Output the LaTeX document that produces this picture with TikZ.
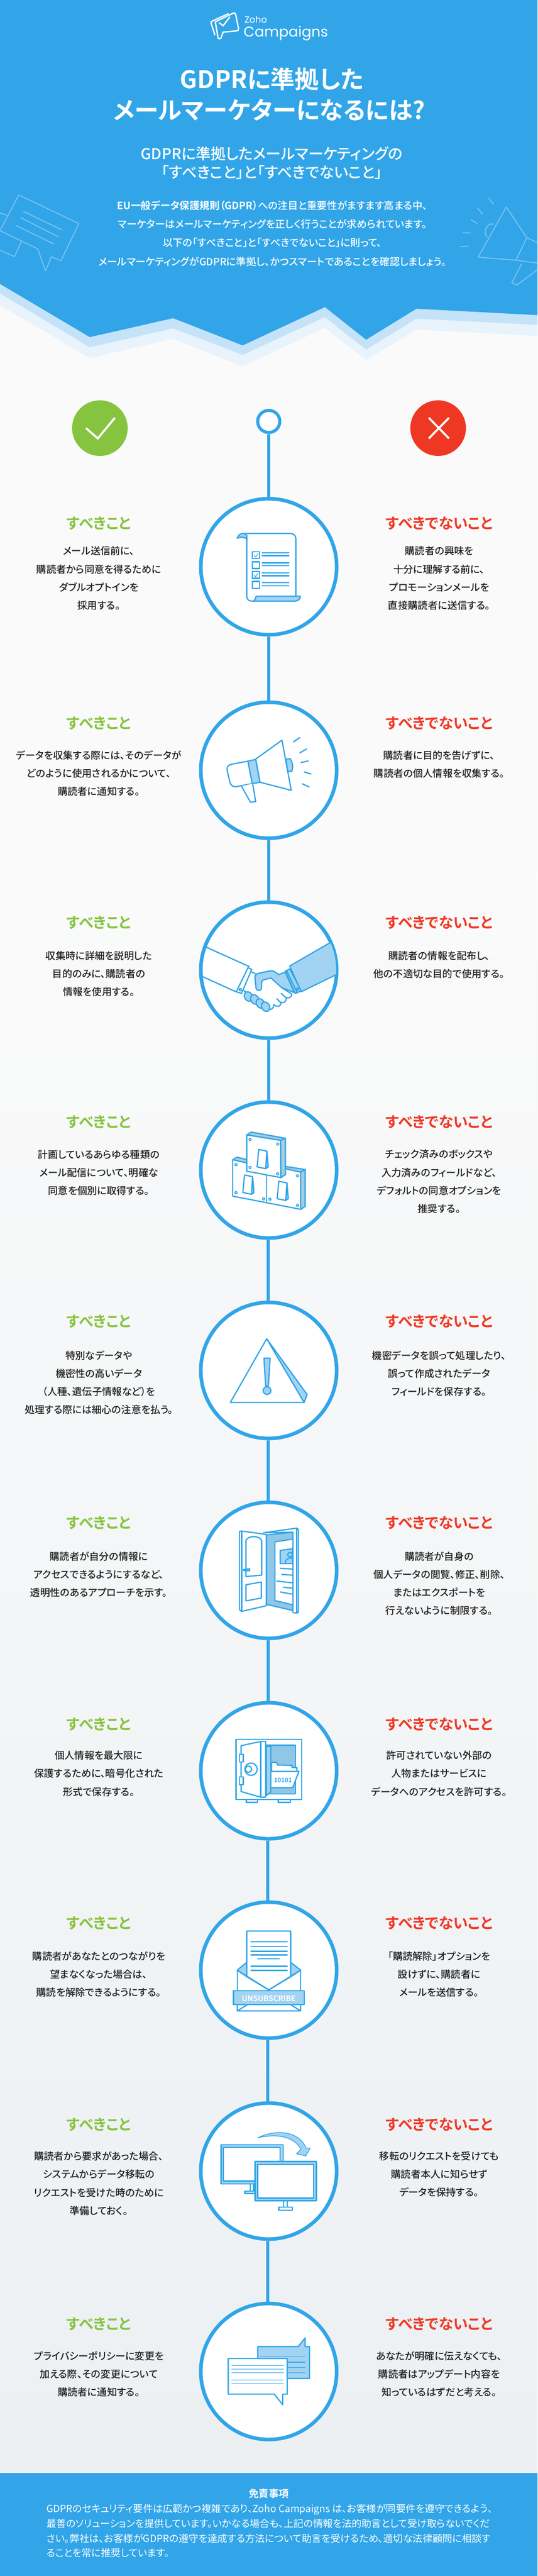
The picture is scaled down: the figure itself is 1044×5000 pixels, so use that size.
\documentclass[tikz,border=0pt]{standalone}
\usepackage{fontspec}
\setmainfont{Noto Sans CJK JP}[RawFeature=+palt]
\newfontfamily\jpm{Noto Sans CJK JP Medium}[RawFeature=+palt]
\newfontfamily\jpb{Noto Sans CJK JP Bold}[RawFeature=+palt]
\newfontfamily\jpr{Noto Sans CJK JP}[RawFeature=+palt]
\newfontfamily\logofont{Poppins}
\definecolor{zb}{HTML}{31A5E8}
\definecolor{zl}{HTML}{A3D3F2}
\definecolor{zm}{HTML}{8FC7E6}
\definecolor{zg}{HTML}{A9CBE0}
\definecolor{zdeco}{HTML}{7DC4F0}
\definecolor{band1}{HTML}{C5E3F8}
\definecolor{band2}{HTML}{E8F3FB}
\definecolor{okc}{HTML}{86C440}
\definecolor{ngc}{HTML}{EF3824}
\definecolor{ink}{HTML}{222222}
\definecolor{bgtop}{HTML}{FAFAFA}
\definecolor{bgbot}{HTML}{ECF0F3}
\tikzset{
  bigcirc/.style={circle,draw=zb,fill=white,line width=7pt,minimum size=264pt,inner sep=0pt},
  spine/.style={draw=zb,line width=6pt},
  ic/.style={draw=zb,line width=2.4pt,line join=round,line cap=round},
  icf/.style={ic,fill=zl},
  icw/.style={ic,fill=white},
  deco/.style={draw=zdeco,line width=1.8pt,line join=round},
  oktitle/.style={text=okc,font=\jpb\fontsize{28.8}{35}\selectfont,inner sep=0pt},
  ngtitle/.style={text=ngc,font=\jpb\fontsize{28.8}{35}\selectfont,inner sep=0pt},
  body/.style={text=ink,font=\jpm\fontsize{19.3}{35.3}\selectfont,align=center,inner sep=0pt},
  whitetext/.style={text=white,align=center,inner sep=0pt},
  zoomA/.style 2 args={shift={(#1,#2)},x=0.33333pt,y=-0.33333pt}
}
\begin{document}
\begin{tikzpicture}[x=1pt,y=-1pt]
\useasboundingbox (0,0) rectangle (1044,5000);
% background
\fill[bgtop] (0,500) rectangle (1044,1700);
\shade[top color=bgtop,bottom color=bgbot] (0,1700) rectangle (1044,4800);
% zigzag header
\begin{scope}[shift={(0,0)},x=0.6658pt,y=-0.4592pt]
\fill[band2] (0,1290)--(262,1513)--(505,1432)--(708,1548)--(948,1385)--(1068,1522)--(1215,1393)--(1568,1420)--(1568,1100)--(0,1100)--cycle;
\fill[band1] (0,1240)--(262,1468)--(505,1388)--(708,1500)--(948,1340)--(1068,1478)--(1215,1347)--(1568,1373)--(1568,1100)--(0,1100)--cycle;
\fill[zb] (0,1200)--(262,1425)--(505,1345)--(708,1460)--(948,1298)--(1068,1436)--(1215,1305)--(1568,1332)--(1568,0)--(0,0)--cycle;
% decorations
\draw[deco] (0,975)--(55,824)--(230,945)--(178,1102)--(150,1085)--(133,1145)--(110,1052)--cycle;
\draw[deco] (0,900)--(20,910) (0,1057)--(42,1085)--(62,1022);
\draw[deco] (68,893)--(182,973) (60,920)--(172,1002) (47,953)--(158,1032);
\draw[deco] (1537,1005)--(1477,875)--(1395,1087)--(1505,1100)--(1537,1005)--(1568,1025);
\draw[deco] (1505,1100)--(1568,1112) (1522,1115)--(1493,1195)--(1508,1205)--(1568,1140);
\draw[deco] (1440,947)--(1428,947)..controls (1415,965) and (1410,985) .. (1422,1003);
\draw[deco] (1425,835)--(1440,865) (1392,878)--(1408,905) (1373,928)--(1393,945) (1350,983)--(1373,985) (1343,1043)--(1367,1040);
\end{scope}
% logo
\begin{scope}[zoomA={400}{15},line width=2.6pt,line join=round,line cap=round]
\draw[white] (55,82)--(158,32)..controls (168,28) and (172,35) .. (174,42)--(190,122)..controls (191,130) and (186,135) .. (178,135)--(100,142)--(88,176)..controls (84,182) and (72,182) .. (70,174)--(55,82);
\draw[white] (52,158)--(30,90)..controls (28,84) and (30,80) .. (36,78)--(130,35);
\draw[white] (78,88)--(100,105)--(138,55);
\end{scope}
\node[text=white,font=\logofont\fontsize{17.6}{20}\selectfont,anchor=west,inner sep=0pt] (zoho) at (475,38) {Zoho};
\node[text=white,font=\logofont\fontsize{27.7}{32}\selectfont,anchor=west,inner sep=0pt] (camp) at (473,64.5) {Campaigns};
% titles
\node[whitetext,font=\jpb\fontsize{47}{59}\selectfont] (title1) at (528,154) {GDPRに準拠した};
\node[whitetext,font=\jpb\fontsize{47}{59}\selectfont] (title2) at (523,213) {メールマーケターになるには?};
\node[whitetext,font=\jpm\fontsize{29.2}{36}\selectfont] (sub) at (528,316) {GDPRに準拠したメールマーケティングの\\「すべきこと」と「すべきでないこと」};
\node[whitetext,font=\jpm\fontsize{19.6}{36.3}\selectfont] (intro) at (529,453) {{\jpb EU一般データ保護規則（GDPR）}への注目と重要性がますます高まる中、\\マーケターはメールマーケティングを正しく行うことが求められています。\\以下の「すべきこと」と「すべきでないこと」に則って、\\メールマーケティングがGDPRに準拠し、かつスマートであることを確認しましょう。};
% top markers
\node[circle,fill=okc,minimum size=108pt,inner sep=0pt] (okb) at (194,831) {};
\node[circle,fill=ngc,minimum size=108pt,inner sep=0pt] (ngb) at (851,831) {};
\draw[white,line width=4pt] (167,831)--(190,851)--(223,811);
\draw[white,line width=4pt] (833,811)--(872,851) (872,811)--(833,851);
\node[circle,draw=zb,fill=white,line width=6pt,minimum size=43pt,inner sep=0pt] (start) at (522,818) {};
% big circles
\node[bigcirc] (c1) at (522,1100) {};
\node[bigcirc] (c2) at (522,1495) {};
\node[bigcirc] (c3) at (522,1883) {};
\node[bigcirc] (c4) at (522,2271) {};
\node[bigcirc] (c5) at (522,2660) {};
\node[bigcirc] (c6) at (522,3048) {};
\node[bigcirc] (c7) at (522,3437) {};
\node[bigcirc] (c8) at (522,3824) {};
\node[bigcirc] (c9) at (522,4214) {};
\node[bigcirc] (c10) at (522,4603) {};
% connectors
\draw[spine] (start) -- (c1);
\draw[spine] (c1) -- (c2);
\draw[spine] ([xshift=-0.2pt]c2.south) -- ([xshift=-0.2pt]c3.north);
\draw[spine] ([xshift=-0.5pt]c3.south) -- ([xshift=-0.5pt]c4.north);
\draw[spine] ([xshift=-1pt]c4.south) -- ([xshift=-1pt]c5.north);
\draw[spine] ([xshift=-1pt]c5.south) -- ([xshift=-1pt]c6.north);
\draw[spine] ([xshift=-1.5pt]c6.south) -- ([xshift=-1.5pt]c7.north);
\draw[spine] ([xshift=-1.8pt]c7.south) -- ([xshift=-1.8pt]c8.north);
\draw[spine] ([xshift=-2pt]c8.south) -- ([xshift=-2pt]c9.north);
\draw[spine] ([xshift=-2.5pt]c9.south) -- ([xshift=-2.5pt]c10.north);
% row texts
\node[oktitle] (o1) at (192,1016) {すべきこと};
\node[ngtitle] (n1) at (853,1016) {すべきでないこと};
\node[body] (ot1) at (192,1122.5) {メール送信前に、\\購読者から同意を得るために\\ダブルオプトインを\\採用する。};
\node[body] (nt1) at (853,1122.5) {購読者の興味を\\十分に理解する前に、\\プロモーションメールを\\直接購読者に送信する。};
\node[oktitle] (o2) at (192,1404) {すべきこと};
\node[ngtitle] (n2) at (853,1404) {すべきでないこと};
\node[body] (ot2) at (192,1501) {データを収集する際には、そのデータが\\どのように使用されるかについて、\\購読者に通知する。};
\node[body] (nt2) at (853,1483.5) {購読者に目的を告げずに、\\購読者の個人情報を収集する。};
\node[oktitle] (o3) at (192,1791) {すべきこと};
\node[ngtitle] (n3) at (853,1791) {すべきでないこと};
\node[body] (ot3) at (192,1890) {収集時に詳細を説明した\\目的のみに、購読者の\\情報を使用する。};
\node[body] (nt3) at (853,1872.5) {購読者の情報を配布し、\\他の不適切な目的で使用する。};
\node[oktitle] (o4) at (192,2178) {すべきこと};
\node[ngtitle] (n4) at (853,2178) {すべきでないこと};
\node[body] (ot4) at (192,2276) {計画しているあらゆる種類の\\メール配信について、明確な\\同意を個別に取得する。};
\node[body] (nt4) at (853,2293.5) {チェック済みのボックスや\\入力済みのフィールドなど、\\デフォルトの同意オプションを\\推奨する。};
\node[oktitle] (o5) at (192,2565) {すべきこと};
\node[ngtitle] (n5) at (853,2565) {すべきでないこと};
\node[body] (ot5) at (192,2683.5) {特別なデータや\\機密性の高いデータ\\（人種、遺伝子情報など）を\\処理する際には細心の注意を払う。};
\node[body] (nt5) at (853,2666) {機密データを誤って処理したり、\\誤って作成されたデータ\\フィールドを保存する。};
\node[oktitle] (o6) at (192,2956) {すべきこと};
\node[ngtitle] (n6) at (853,2956) {すべきでないこと};
\node[body] (ot6) at (192,3056) {購読者が自分の情報に\\アクセスできるようにするなど、\\透明性のあるアプローチを示す。};
\node[body] (nt6) at (853,3073.5) {購読者が自身の\\個人データの閲覧、修正、削除、\\またはエクスポートを\\行えないように制限する。};
\node[oktitle] (o7) at (192,3346.5) {すべきこと};
\node[ngtitle] (n7) at (853,3346.5) {すべきでないこと};
\node[body] (ot7) at (192,3442.5) {個人情報を最大限に\\保護するために、暗号化された\\形式で保存する。};
\node[body] (nt7) at (853,3442.5) {許可されていない外部の\\人物またはサービスに\\データへのアクセスを許可する。};
\node[oktitle] (o8) at (192,3733) {すべきこと};
\node[ngtitle] (n8) at (853,3733) {すべきでないこと};
\node[body] (ot8) at (192,3832) {購読者があなたとのつながりを\\望まなくなった場合は、\\購読を解除できるようにする。};
\node[body] (nt8) at (853,3832) {「購読解除」オプションを\\設けずに、購読者に\\メールを送信する。};
\node[oktitle] (o9) at (192,4124) {すべきこと};
\node[ngtitle] (n9) at (853,4124) {すべきでないこと};
\node[body] (ot9) at (192,4238) {購読者から要求があった場合、\\システムからデータ移転の\\リクエストを受けた時のために\\準備しておく。};
\node[body] (nt9) at (853,4220) {移転のリクエストを受けても\\購読者本人に知らせず\\データを保持する。};
\node[oktitle] (o10) at (192,4511) {すべきこと};
\node[ngtitle] (n10) at (853,4511) {すべきでないこと};
\node[body] (ot10) at (192,4608) {プライバシーポリシーに変更を\\加える際、その変更について\\購読者に通知する。};
\node[body] (nt10) at (853,4608) {あなたが明確に伝えなくても、\\購読者はアップデート内容を\\知っているはずだと考える。};
% icon 1 document
\begin{scope}[shift={(0,720)},x=0.6658pt,y=-0.5102pt]
\draw[icf] (692,637)..controls (694,625) and (700,618) .. (712,618)--(720,625)--(720,640)..controls (712,630) and (700,630) .. (692,637)--cycle;
\draw[ic] (712,618)--(845,618)..controls (857,618) and (863,626) .. (863,638)--(863,856);
\draw[ic] (720,635)--(720,858)..controls (720,870) and (726,876) .. (738,876);
\draw[icf] (747,857)--(876,857)..controls (876,868) and (870,876) .. (858,876)--(738,876)..controls (744,872) and (746,865) .. (747,857)--cycle;
\foreach \yy in {688,726,763,801} \draw[ic] (736,\yy) rectangle (757,\yy+26);
\foreach \yy in {692,730,768,806} {\draw[ic] (765,\yy)--(843,\yy); \draw[ic] (765,\yy+11)--(843,\yy+11);}
\draw[zb,line width=1.3pt] (741,700)--(746,708)--(753,694);
\draw[zb,line width=1.3pt] (741,775)--(746,783)--(753,769);
\end{scope}
% icon 2 megaphone
\begin{scope}[zoomA={400}{1420}]
\draw[icw] (290,160)--(443,50)--(497,342)--(315,295)--cycle;
\draw[icw] (245,172)--(150,190)..controls (128,194) and (120,208) .. (124,228)--(140,295)..controls (145,315) and (160,325) .. (180,320)--(270,303)--cycle;
\draw[icf] (245,172)--(290,162)--(315,295)--(270,303)--cycle;
\draw[icw] (207,318)--(260,412)--(290,407)--(272,303);
\draw[icf] (467,160)--(490,158)..controls (505,175) and (510,210) .. (500,232)--(476,232)--cycle;
\draw[ic] (510,60)--(547,35) (547,124)--(585,102) (555,180)--(596,171) (573,235)--(612,247) (562,304)--(601,322);
\end{scope}
% icon 3 handshake
\begin{scope}
\clip (c3.center) circle[radius=131pt];
\begin{scope}[zoomA={390}{1790}]
\draw[ic] (20,140)--(275,255) (0,312)--(205,405);
\draw[icf] (752,120)--(518,255)--(585,405)--(800,300)--(800,100)--cycle;
\end{scope}
\end{scope}
\begin{scope}[zoomA={390}{1790}]
\draw[icw] (275,265)--(297,275)--(237,415)--(207,405)--cycle;
\draw[ic] (280,255)--(275,265);
\draw[ic] (230,393) circle[radius=2.2pt];
\draw[ic] (297,290)--(318,300) (250,398)--(262,405);
\draw[icf] (492,290)--(455,305)--(430,288)..controls (420,282) and (410,282) .. (400,284)--(335,298)..controls (320,302) and (315,310) .. (316,325)--(322,385)..controls (326,402) and (350,402) .. (354,385)--(355,350)..controls (356,338) and (362,336) .. (372,334)--(410,325)--(470,380)--(545,410)--cycle;
\draw[icf] (492,285)--(518,272)--(585,400)--(550,415)--cycle;
\draw[ic] (500,282)--(563,412);
\draw[ic] (563,390) circle[radius=2.2pt];
\foreach \xx/\yy in {278/433,315/450,347/473,378/492} \draw[icf,rotate around={30:(\xx,\yy)}] (\xx,\yy) ellipse [x radius=23,y radius=29];
\draw[ic] (398,507)..controls (412,512) and (425,500) .. (425,480);
\draw[ic] (425,478)..controls (440,498) and (465,492) .. (468,470)--(442,445);
\draw[ic] (468,465)..controls (482,475) and (498,465) .. (498,440)--(468,415);
\draw[ic] (498,437)..controls (512,448) and (532,435) .. (530,418)--(470,380);
\end{scope}
% icon 4 keys
\begin{scope}[zoomA={430}{2170}]
\draw[icw] (66,243)--(66,455)--(462,532)--(462,315)--(373,295);
\draw[ic,fill=zg] (66,243)--(92,228)--(150,243)--(148,262)--cycle;
\draw[ic,fill=zg] (373,282)--(488,300)--(462,315)--(373,295)--cycle;
\draw[ic,fill=zg] (462,315)--(488,300)--(488,515)--(462,532)--cycle;
\draw[ic] (264,335)--(264,492);
\draw[icw] (148,98)--(345,130)--(347,347)--(148,310)--cycle;
\draw[ic,fill=zg] (148,98)--(175,82)--(373,118)--(345,130)--cycle;
\draw[ic,fill=zg] (345,130)--(373,118)--(373,330)--(347,347)--cycle;
\foreach \xx/\yy in {218/183,135/332,335/368} {
 \begin{scope}[shift={(\xx,\yy)}]
 \draw[icf] (47,10)--(55,102)--(40,112)--cycle;
 \draw[icw] (0,0)--(47,10)--(40,112)--(-10,102)--cycle;
 \end{scope}}
\foreach \xx/\yy in {167/125,328/152,167/288,328/325,85/272,85/435,246/471,283/473,444/337,444/509} \draw[ic,line width=1.8pt] (\xx,\yy) circle[radius=2.2pt];
\end{scope}
% icon 5 warning
\begin{scope}[shift={(0,2320)},x=0.6658pt,y=-0.5102pt]
\draw[icf] (778,546)--(896,758)--(887,788)--cycle;
\draw[icw] (778,546)--(672,788)--(887,788)--cycle;
\draw[icf] (770,620)--(788,620)--(783,725)--(775,725)--cycle;
\draw[icf] (779,743) circle[radius=7.5pt];
\end{scope}
% icon 6 door
\begin{scope}[zoomA={440}{2950}]
\draw[ic,fill=zm] (232,88)--(387,72)--(387,528)--(232,492)--cycle;
\draw[icw] (282,128)--(387,112)--(387,495)--(282,470)--cycle;
\draw[ic] (215,75)--(410,48)--(420,58)--(420,535)--(410,543)--(387,540)--(387,72)--cycle;
\draw[ic] (410,48)--(410,543);
\draw[icw] (75,68)--(88,65)--(232,85)--(232,500)--(88,533)--(75,522)--cycle;
\draw[ic] (88,65)--(88,533);
\draw[ic] (113,330)--(113,120)..controls (125,90) and (190,90) .. (205,120)--(205,322)--cycle;
\draw[ic] (113,378)--(203,362)--(203,455)--(113,472)--cycle;
\draw[icf] (97,290)--(135,285)--(135,297)--(104,297)--cycle;
\draw[icf] (313,178)--(385,168)--(385,255)--(313,255)--cycle;
\draw[ic] (370,203) circle[radius=4.5pt];
\draw[ic] (342,252)..controls (345,228) and (355,222) .. (384,222);
\draw[ic] (313,282)--(385,287) (322,318)--(385,322) (292,356)--(385,367) (330,392)--(385,398) (313,420)--(385,433);
\end{scope}
% icon 7 safe
\begin{scope}[zoomA={440}{3370}]
\draw[ic] (115,372)--(115,385)--(180,385)--(180,372) (302,372)--(302,385)--(372,385)--(372,372);
\draw[icw] (55,17) rectangle (438,368);
\draw[ic,fill=zm] (232,52)--(402,52)--(402,335)--(232,335)--cycle;
\draw[icf] (232,58)--(258,60)--(258,325)--(232,345)--cycle;
\draw[icw] (262,152)--(292,152)--(297,168)--(382,170)--(382,182)--(410,182)--(410,205)--(262,205)--cycle;
\draw[icw] (262,205)--(422,205)--(385,300)--(262,300);
\node[text=zb,font=\jpb\fontsize{11.8}{14}\selectfont,inner sep=0pt] (bits) at (329,257) {10101};
\draw[icw] (85,55)--(200,30)--(228,30)--(228,355)--(200,355)--(85,322)--cycle;
\draw[ic] (200,30)--(200,355);
\draw[icw] (75,105) rectangle (97,150);
\draw[icw] (75,237) rectangle (97,282);
\draw[ic] (143,192) circle[radius=12pt];
\draw[icw] (128,192) circle[radius=6pt];
\end{scope}
% icon 8 envelope
\begin{scope}[shift={(0,3120)},x=0.6658pt,y=-0.5102pt]
\draw[ic] (692,1380)--(692,1458) (877,1380)--(877,1458);
\draw[icf] (692,1380)--(720,1350)--(720,1405)--cycle;
\draw[icf] (877,1380)--(848,1350)--(848,1405)--cycle;
\draw[icw] (720,1231)--(848,1231)--(848,1405)--(784,1455)--(720,1405)--cycle;
\draw[ic] (692,1380)--(784,1455)--(877,1380);
\foreach \yy in {1272,1290,1308,1322,1365,1381} \draw[ic] (732,\yy)--(838,\yy);
\draw[ic] (752,1337)--(815,1337);
\draw[ic] (692,1511)--(692,1535)--(877,1535)--(877,1511) (692,1535)--(722,1511) (877,1535)--(848,1511);
\draw[icf] (681,1458) rectangle (888,1511);
\node[text=white,font=\jpb\fontsize{14.7}{18}\selectfont,inner sep=0pt] (unsub) at (784,1487) {UNSUBSCRIBE};
\end{scope}
% icon 9 monitors
\begin{scope}[shift={(0,3920)},x=0.6658pt,y=-0.689pt]
\draw[ic] (730,463)--(730,483) (740,463)--(740,483);
\draw[icw] (714,483) rectangle (745,490);
\draw[ic,fill=zl] (645,353) rectangle (826,463);
\draw[icw] (652,360) rectangle (817,455);
\draw[ic] (828,510)--(828,528) (838,510)--(838,528);
\draw[icw] (813,528) rectangle (853,537);
\draw[ic,fill=zl] (744,400) rectangle (923,510);
\draw[icw] (752,408) rectangle (915,503);
\draw[ic,line width=1.4pt,fill=zl] (752,333)..controls (800,310) and (870,310) .. (893,362)--(905,362)--(892,384)--(865,378)--(878,365)..controls (855,325) and (800,322) .. (752,333)--cycle;
\end{scope}
% icon 10 chat
\begin{scope}[shift={(0,3920)},x=0.6658pt,y=-0.689pt]
\draw[icf] (752,921)--(870,921)--(890,897)--(890,921)--(903,921)--(903,1011)--(752,1011)--cycle;
\foreach \yy in {950,965,980,995} \draw[ic,line width=1.3pt] (760,\yy)--(890,\yy);
\draw[icw] (666,955)--(838,955)--(838,1055)--(825,1055)--(825,1085)--(800,1055)--(666,1055)--cycle;
\foreach \yy in {975,985,995,1015,1025} \draw[ic,line width=1.3pt] (676,\yy)--(827,\yy);
\end{scope}
% footer
\fill[zb] (0,4800) rectangle (1044,5000);
\node[whitetext,font=\jpb\fontsize{19.5}{24}\selectfont] (ft) at (522,4840) {免責事項};
\node[text=white,align=left,anchor=north west,inner sep=0pt,font=\jpr\fontsize{19.2}{28.8}\selectfont] (fb) at (90,4860) {GDPRのセキュリティ要件は広範かつ複雑であり、Zoho Campaigns は、お客様が同要件を遵守できるよう、\\最善のソリューションを提供しています。いかなる場合も、上記の情報を法的助言として受け取らないでくだ\\さい。弊社は、お客様がGDPRの遵守を達成する方法について助言を受けるため、適切な法律顧問に相談す\\ることを常に推奨しています。};
\end{tikzpicture}
\end{document}
